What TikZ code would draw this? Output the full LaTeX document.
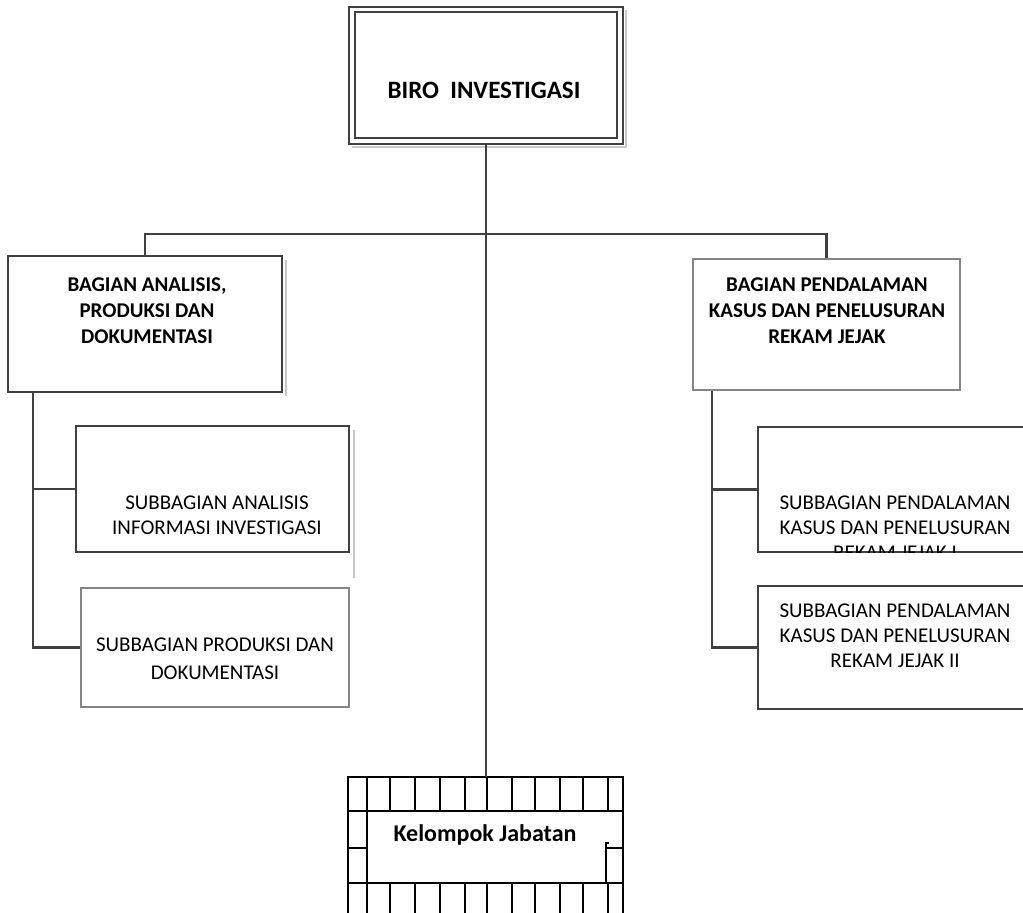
\documentclass[tikz,border=0pt]{standalone}
\usepackage{fontspec}
\setmainfont{Carlito}
\usetikzlibrary{fit}
\definecolor{boxc}{HTML}{404040}
\definecolor{lboxc}{HTML}{858585}
\definecolor{shadc}{HTML}{C8C8C8}
\begin{document}
\begin{tikzpicture}[x=1pt,y=-1pt,
  box/.style={draw=boxc, line width=1.6pt, inner sep=0pt},
  lbox/.style={draw=lboxc, line width=1.4pt, inner sep=0pt},
  conn/.style={draw=boxc, line width=2.2pt},
  shad/.style={draw=shadc, line width=1.5pt},
  gridl/.style={draw=black, line width=1.8pt},
  ttl/.style={font=\bfseries\fontsize{25}{30}\selectfont, inner sep=0pt},
  bag/.style={font=\bfseries\fontsize{21}{26}\selectfont, align=center, inner sep=0pt},
  sub/.style={font=\fontsize{21}{25}\selectfont, align=center, inner sep=0pt},
]
\clip (0,0) rectangle (1023,913);
\fill[white] (0,0) rectangle (1023,913);

% top box
\draw[shad] (352,147) -- (626,147) -- (626,10);
\node[box, fit={(349,7)(623,144)}] (top) {};
\node[box, fit={(355,12)(617,138)}] (topin) {};
\node[ttl] (ttlt) at (484,90) {BIRO\ \ INVESTIGASI};

% bagian boxes
\draw[shad] (286,260) -- (286,396);
\node[box, fit={(8,256)(282,392)}] (bagL) {};
\node[bag] (tL) at (147,311) {BAGIAN ANALISIS,\\PRODUKSI DAN\\DOKUMENTASI};
\node[lbox, fit={(693,259)(960,390)}] (bagR) {};
\node[bag] (tR) at (827,311) {BAGIAN PENDALAMAN\\KASUS DAN PENELUSURAN\\REKAM JEJAK};

% subbagian left
\draw[shad] (354,430) -- (354,578);
\node[box, fit={(76,426)(349,552)}] (sub1) {};
\node[sub] (t1) at (217,515) {SUBBAGIAN ANALISIS\\INFORMASI INVESTIGASI};
\node[lbox, fit={(81,588)(349,707)}] (sub2) {};
\node[sub, font=\fontsize{21}{28}\selectfont] (t2) at (215,659) {SUBBAGIAN PRODUKSI DAN\\DOKUMENTASI};

% subbagian right
\node[box, fit={(758,427)(1032,552)}] (subR1) {};
\begin{scope}
\clip (subR1.south west) rectangle (subR1.north east);
\node[sub] (t3) at (895,528) {SUBBAGIAN PENDALAMAN\\KASUS DAN PENELUSURAN\\REKAM JEJAK I};
\end{scope}
\node[box, fit={(758,586)(1032,709)}] (subR2) {};
\node[sub] (t4) at (895,636) {SUBBAGIAN PENDALAMAN\\KASUS DAN PENELUSURAN\\REKAM JEJAK II};

% kelompok jabatan
\node[inner sep=0pt, fit={(348,777)(624,913)}] (kel) {};
\foreach \x in {348,367,390,415,440,465,487,512,535,560,583,608,623} {
  \draw[gridl] (\x,777) -- (\x,811);
  \draw[gridl] (\x,883) -- (\x,913);
}
\draw[gridl] (347,777) -- (624,777);
\draw[gridl] (347,811) -- (624,811);
\draw[gridl] (347,883) -- (624,883);
\draw[gridl] (348,811) -- (348,883);
\draw[gridl] (367,811) -- (367,883);
\draw[gridl] (623,811) -- (623,883);
\draw[gridl] (348,848) -- (367,848);
\draw[gridl] (606,848) -- (623,848);
\draw[gridl] (606,843) -- (606,883);
\draw[gridl] (605,843) -- (609,843);
\node[font=\bfseries\fontsize{24}{28}\selectfont, inner sep=0pt] (tK) at (485,835) {Kelompok Jabatan};

% connectors
\draw[conn] (top.south) -- (kel.north);
\draw[conn] (bagL.north) -- ++(0,-21) -| (bagR.north);
\coordinate (spL) at ([xshift=26pt]bagL.south west);
\draw[conn] (spL) |- (sub2.west);
\draw[conn] (spL |- sub1.west) -- (sub1.west);
\coordinate (spR) at ([xshift=20pt]bagR.south west);
\draw[conn] (spR) |- (subR2.west);
\draw[conn] (spR |- subR1.west) -- (subR1.west);
\end{tikzpicture}
\end{document}
